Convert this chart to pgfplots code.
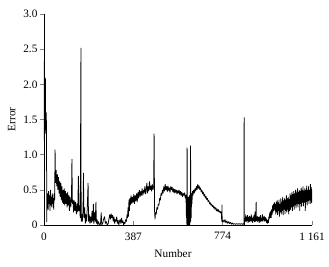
\documentclass[border=0pt]{standalone}
\usepackage{pgfplots}
\pgfplotsset{compat=1.18}
\usepackage{fontspec}
\setmainfont{Liberation Serif}
\begin{document}
\begin{tikzpicture}
\begin{axis}[
  scale only axis, width=268pt, height=211pt,
  xmin=0, xmax=1161, ymin=0, ymax=3.0,
  axis lines*=left,
  axis line style={line width=0.6pt},
  tick align=inside,
  major tick length=3.5pt,
  y tick style={xshift=-3.5pt, line width=0.6pt},
  x tick style={line width=0.6pt},
  xtick={0,387,774,1161}, xticklabels={0,387,774,1 161},
  ytick={0,0.5,1,1.5,2,2.5,3}, yticklabels={0,0.5,1.0,1.5,2.0,2.5,3.0},
  yticklabel style={xshift=-3pt},
  xticklabel style={yshift=-4pt},
  font=\fontsize{11.3}{13}\selectfont,
  xlabel={Number}, ylabel={Error},
  xlabel style={yshift=-3pt, xshift=-5pt},
  ylabel style={yshift=1pt},
  clip=true,
]
\addplot[black, line width=0.75pt, mark=none, line join=bevel] coordinates {
(0,2.33)(1,1.2)(2,2.3)(3,1.4)(4,2.1)(5,1.3)(6,2.08)(7,1.5)(8,1.6)(9,1.35)(10,1.6)(11,1.2)(12,0.04)(13,0.4)
(14,0.25)(16,0.45)(18,0.22)(20,0.48)(22,0.3)(24,0.42)(26,0.2)(28,0.5)(30,0.28)(32,0.4)(34,0.25)(36,0.45)(38,0.3)(40,0.38)(42,0.22)(44,0.45)(46,0.35)(48,1.07)(50,0.6)
(53,0.78)(55,0.55)(58,0.72)(60,0.5)(63,0.68)(65,0.45)(68,0.62)(70,0.4)(73,0.6)(75,0.35)(78,0.55)(80,0.32)(83,0.5)(85,0.3)(88,0.52)(90,0.28)(93,0.48)(95,0.3)(98,0.45)(100,0.25)(103,0.47)(105,0.28)(108,0.42)(110,0.2)(113,0.4)(116,0.25)(119,0.38)(121,0.94)(123,0.3)(126,0.36)(128,0.18)(131,0.35)(134,0.2)(137,0.33)(140,0.15)(143,0.3)(146,0.18)(149,0.7)(151,0.2)(154,0.28)(157,0.1)(160,2.52)(161,0.05)
(163,0.15)(166,0.05)(169,0.2)(171,0.74)(173,0.1)(176,0.25)(179,0.02)(182,0.15)(185,0.05)(188,0.3)(191,0.6)(193,0.05)(196,0.15)(199,0.02)(202,0.12)(205,0.03)(208,0.2)(211,0.05)(214,0.3)(216,0.02)(219,0.18)(222,0.05)(225,0.33)(227,0.02)(230,0.08)(233,0.0)(236,0.05)(239,0.02)(242,0.0)(245,0.02)(248,0.18)(250,0.0)(254,0.02)(258,0.08)(262,0.12)
(266,0.02)(270,0.05)(274,0.0)(278,0.02)(282,0.1)(285,0.15)(288,0.08)(291,0.16)(294,0.1)(297,0.14)(300,0.05)(303,0.12)(306,0.02)(309,0.08)(312,0.05)(315,0.12)(318,0.02)(321,0.07)(324,0.0)(327,0.05)
(330,0.08)(333,0.02)(336,0.1)(339,0.03)(342,0.06)(345,0.0)(348,0.04)(351,0.02)(354,0.08)(357,0.05)(360,0.15)(362,0.1)(364,0.25)(366,0.12)(368,0.36)(370,0.2)(372,0.38)
(374,0.28)(377,0.42)(380,0.3)(383,0.4)(386,0.32)(389,0.44)(392,0.3)(395,0.42)(398,0.34)(401,0.45)(404,0.33)(407,0.47)(410,0.38)(413,0.5)(416,0.4)(419,0.48)(422,0.42)(425,0.52)(428,0.42)(431,0.5)(434,0.45)(437,0.55)(440,0.44)(443,0.52)(446,0.6)(448,0.45)(451,0.55)(454,0.48)(457,0.62)(460,0.5)(463,0.56)(466,0.48)(469,0.58)(472,0.5)(475,0.55)(477,1.3)(479,0.2)(481,0.08)
(483,0.18)(486,0.15)(489,0.25)(492,0.22)(495,0.3)(498,0.28)(501,0.38)(504,0.35)(507,0.45)(510,0.42)(513,0.5)(516,0.45)(519,0.55)(522,0.48)(525,0.58)(528,0.5)(531,0.55)(534,0.47)(537,0.56)(540,0.49)(543,0.53)(546,0.46)(549,0.55)(552,0.5)(555,0.54)(558,0.47)(561,0.52)(564,0.45)(567,0.51)(570,0.46)(573,0.5)(576,0.44)(579,0.49)(582,0.45)(585,0.5)(588,0.43)(591,0.48)(594,0.42)(597,0.47)(600,0.4)(603,0.45)(606,0.42)(609,0.46)(612,0.38)(615,0.43)(617,0.1)
(618,0.35)(619,0.0)(620,1.1)(621,0.05)(622,0.4)(623,0.0)(624,0.38)(625,0.02)(626,0.4)(627,0.0)(628,0.35)(629,0.05)(630,0.42)(631,0.0)(632,0.38)(633,0.03)(634,0.4)(635,1.13)(636,0.05)(637,0.42)(638,0.1)(639,0.45)(641,0.3)(643,0.48)
(645,0.42)(648,0.5)(651,0.45)(654,0.52)(657,0.48)(660,0.55)(663,0.5)(666,0.58)(669,0.52)(672,0.56)(675,0.5)(678,0.53)(681,0.47)(684,0.5)(687,0.44)(690,0.47)(693,0.41)(696,0.44)(699,0.38)(702,0.41)(705,0.36)(708,0.38)(711,0.33)(714,0.35)(717,0.3)(720,0.32)(723,0.28)(726,0.3)(729,0.26)(732,0.28)(735,0.24)(738,0.26)(741,0.22)(744,0.25)(747,0.2)(750,0.23)(753,0.19)(756,0.22)(759,0.18)(762,0.2)(765,0.17)(768,0.19)(770,0.05)(771,0.29)(772,0.04)
(776,0.07)(780,0.04)(784,0.08)(788,0.03)(792,0.06)(796,0.02)(800,0.05)(804,0.02)(808,0.04)(812,0.01)(816,0.03)(820,0.01)(825,0.02)(830,0.01)(835,0.02)(840,0.01)(845,0.02)(850,0.01)(855,0.02)(860,0.01)(864,0.02)(866,0.01)(867,1.53)(868,0.0)
(870,0.1)(872,0.05)(874,0.15)(876,0.04)(878,0.12)(880,0.06)(882,0.14)(884,0.03)(886,0.11)(888,0.05)(890,0.13)(892,0.04)(894,0.12)(896,0.06)(898,0.15)(900,0.05)(902,0.1)(904,0.03)(906,0.12)(908,0.06)(910,0.14)(912,0.04)(914,0.19)(916,0.05)(918,0.1)(919,0.33)(920,0.06)(922,0.12)(924,0.04)(926,0.13)(928,0.06)(930,0.11)(932,0.03)(934,0.12)(936,0.05)(938,0.14)(940,0.04)(942,0.1)(944,0.06)(946,0.15)(948,0.05)(950,0.12)(952,0.07)(954,0.13)(956,0.05)(958,0.11)(960,0.06)(962,0.1)(964,0.03)(966,0.08)(968,0.02)(970,0.07)(972,0.03)(974,0.12)(976,0.08)(978,0.18)(980,0.1)(982,0.2)(984,0.1)(986,0.22)(988,0.14)(990,0.28)(992,0.18)(994,0.3)(996,0.2)(998,0.32)(1000,0.22)
(1002,0.3)(1004,0.15)(1006,0.33)(1008,0.18)(1010,0.35)(1012,0.14)(1014,0.32)(1016,0.2)(1018,0.36)(1020,0.12)(1022,0.3)(1024,0.18)(1026,0.38)(1028,0.15)(1030,0.33)(1032,0.2)(1034,0.4)(1036,0.14)(1038,0.35)(1040,0.22)(1042,0.38)(1044,0.16)(1046,0.36)(1048,0.2)(1050,0.42)(1052,0.18)(1054,0.38)(1056,0.22)(1058,0.4)(1060,0.15)(1062,0.37)(1064,0.2)(1066,0.45)(1068,0.22)(1070,0.42)(1072,0.25)(1074,0.47)(1076,0.2)(1078,0.44)(1080,0.26)(1082,0.48)(1084,0.22)(1086,0.45)(1088,0.28)(1090,0.5)(1092,0.24)(1094,0.46)(1096,0.3)(1098,0.52)(1100,0.25)(1102,0.47)(1104,0.3)(1106,0.5)(1108,0.2)(1110,0.48)(1112,0.3)(1114,0.53)(1116,0.26)(1118,0.5)(1120,0.32)(1122,0.55)(1124,0.27)(1126,0.49)(1128,0.32)(1130,0.52)(1132,0.2)(1134,0.5)(1136,0.33)(1138,0.56)(1140,0.28)(1142,0.5)(1144,0.34)(1146,0.55)(1148,0.3)(1150,0.5)(1152,0.35)(1154,0.58)(1156,0.3)(1158,0.54)(1160,0.32)(1161,0.5)
};
\end{axis}
\pgfresetboundingbox
\path (-44pt,-42pt) rectangle (285pt,225pt);
\end{tikzpicture}
\end{document}
